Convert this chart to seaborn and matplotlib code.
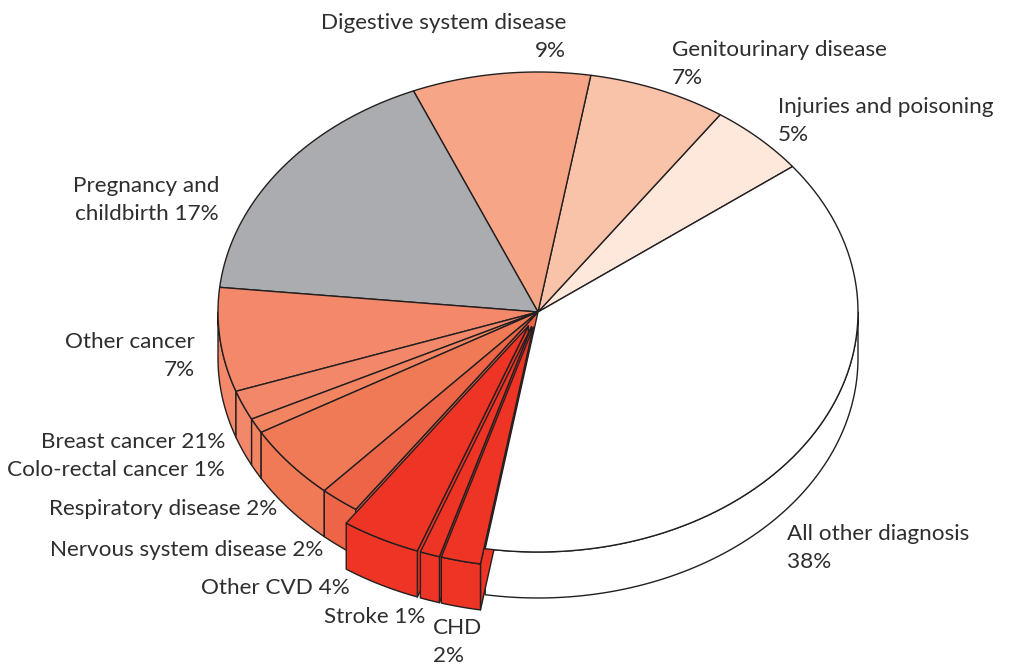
import numpy as np
import matplotlib.pyplot as plt
import seaborn as sns

# slices in drawing order, counter-clockwise from the "Injuries" edge
categories = ["Injuries and poisoning", "Genitourinary disease", "Digestive system disease",
              "Pregnancy and childbirth", "Other cancer", "Breast cancer", "Colo-rectal cancer",
              "Respiratory disease", "Nervous system disease", "Other CVD", "Stroke", "CHD",
              "All other diagnosis"]
shares = [5, 7, 9, 17, 7, 2, 1, 5, 2, 4, 1, 2, 38]  # slice sizes as drawn (%)
labels = ["Injuries and poisoning\n5%", "Genitourinary disease\n7%", "Digestive system disease\n9%",
          "Pregnancy and\nchildbirth 17%", "Other cancer\n7%", "Breast cancer 21%",
          "Colo-rectal cancer 1%", "Respiratory disease 2%", "Nervous system disease 2%",
          "Other CVD 4%", "Stroke 1%", "CHD\n2%", "All other diagnosis\n38%"]
exploded = [False] * 9 + [True] * 3 + [False]
colors = ["#FDE8DB", "#F9C3A9", "#F6A686", "#ABACB0", "#F3896A", "#F3876A", "#F28462",
          "#F07A55", "#EE6446", "#EE3424", "#EE3424", "#EE3424", "#FFFFFF"]

# label placement (pixels) and alignment
label_pos = [(778, 121, "left"), (672, 64, "left"), (566, 37, "right"), (219, 200, "right"),
             (195, 356, "right"), (225, 442, "right"), (225, 470, "right"), (277, 509, "right"),
             (323, 550, "right"), (350, 588, "right"), (425, 617, "right"), (433, 642, "left"),
             (787, 548, "left")]

# geometry of the tilted pie (pixels)
W, H = 1015, 666
cx, cy = 538, 312
rx, ry = 320, 240
depth = 46
start = 37.3
explode_r = 0.065

sns.set_style("white")
plt.rcParams["font.family"] = ["Lato", "DejaVu Sans"]

fig = plt.figure(figsize=(W / 100, H / 100), dpi=100)
ax = fig.add_axes([0, 0, 1, 1])
ax.set_xlim(0, W)
ax.set_ylim(H, 0)
ax.axis("off")

edge = dict(edgecolor="#231F20", linewidth=1.0, joinstyle="round")


def pt(t, off=(0, 0), down=0):
    r = np.radians(t)
    return cx + off[0] + rx * np.cos(r), cy + off[1] - ry * np.sin(r) + down


def arc(t0, t1, off, down=0, n=80):
    ts = np.linspace(t0, t1, n)
    xs, ys = pt(ts, off, down)
    return list(zip(xs, ys))


bounds = start + np.concatenate([[0], np.cumsum(shares)]) * 3.6
slices = []
for i, cat in enumerate(categories):
    t0, t1 = bounds[i], bounds[i + 1]
    mid = np.radians((t0 + t1) / 2)
    off = (0, 0)
    if exploded[i]:
        off = (explode_r * rx * np.cos(mid), -explode_r * ry * np.sin(mid))
    slices.append((t0, t1, off))


def draw_walls(i):
    t0, t1, off = slices[i]
    # front-facing part of the rim: angles whose sine is negative
    for lo, hi in [(180, 360), (540, 720)]:
        a, b = max(t0, lo), min(t1, hi)
        if b > a:
            top = arc(a, b, off)
            bot = arc(a, b, off, depth)[::-1]
            ax.fill(*zip(*(top + bot)), facecolor=colors[i], **edge)


def draw_face(i, t):
    t0, t1, off = slices[i]
    c_top = (cx + off[0], cy + off[1])
    c_bot = (c_top[0], c_top[1] + depth)
    r_top = pt(t, off)
    r_bot = pt(t, off, depth)
    ax.fill(*zip(c_top, r_top, r_bot, c_bot), facecolor=colors[i], **edge)


def visible_faces(i):
    t0, t1, off = slices[i]
    n = len(slices)
    out = []
    # face at t0 has outward normal t0-90, face at t1 has normal t1+90
    if np.sin(np.radians(t0 - 90)) < 0 and (exploded[i] or exploded[(i - 1) % n]):
        out.append(t0)
    if np.sin(np.radians(t1 + 90)) < 0 and (exploded[i] or exploded[(i + 1) % n]):
        out.append(t1)
    return out


def draw_top(i):
    t0, t1, off = slices[i]
    pts = [(cx + off[0], cy + off[1])] + arc(t0, t1, off)
    ax.fill(*zip(*pts), facecolor=colors[i], **edge)


base = [i for i in range(len(slices)) if not exploded[i]]
front = sorted([i for i in range(len(slices)) if exploded[i]],
               key=lambda i: -abs((slices[i][0] + slices[i][1]) / 2 - 270))

for i in base:
    draw_walls(i)
for i in base + front:
    for t in visible_faces(i):
        draw_face(i, t)
for i in base:
    draw_top(i)
for i in front:
    draw_walls(i)
    draw_top(i)

for lab, (x, y, ha) in zip(labels, label_pos):
    ax.text(x, y, lab, ha=ha, va="center", fontsize=16.2, color="#2E2E2E", linespacing=1.5)

fig.savefig("out.png", dpi=100)
